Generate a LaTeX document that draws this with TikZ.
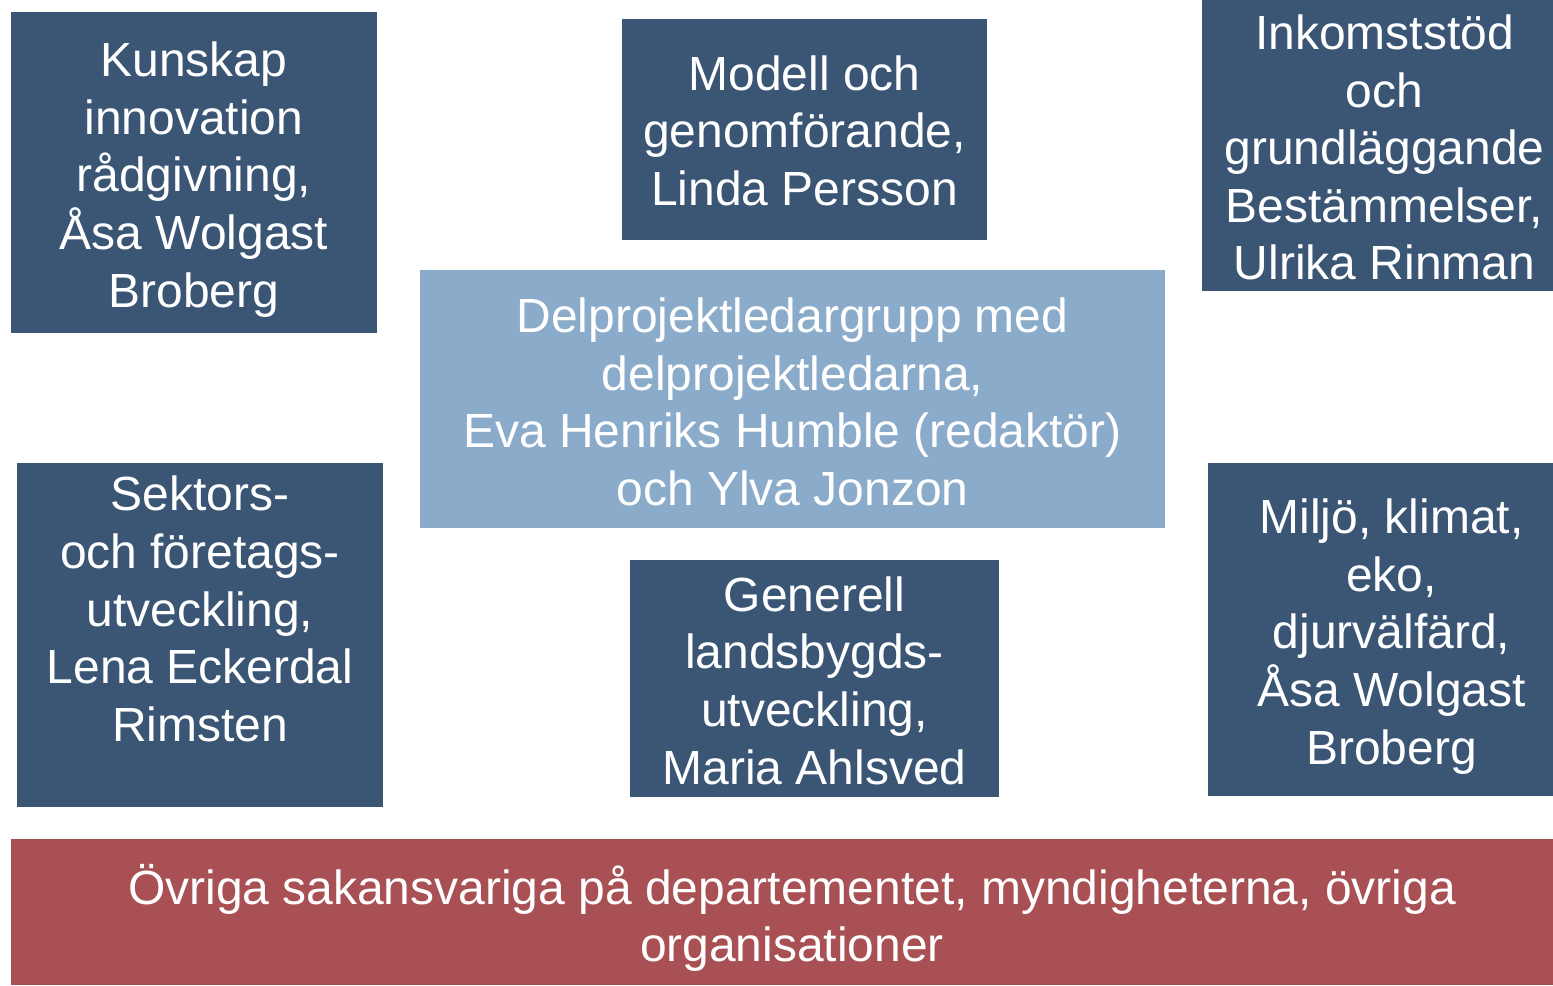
\documentclass[tikz,border=0pt]{standalone}
\usepackage{fontspec}
\setmainfont{Liberation Sans}
\definecolor{boxblue}{HTML}{3B5675}
\definecolor{lightblue}{HTML}{8AABCA}
\definecolor{boxred}{HTML}{A85053}
\begin{document}
\begin{tikzpicture}[x=0.02cm, y=-0.02cm,
        box/.style={fill=boxblue, inner sep=0pt},
        txt/.style={text=white, align=center, inner sep=0pt,
            font=\fontsize{27.3}{32.8}\selectfont}]
        \useasboundingbox (0,0) rectangle (1553,985);
        \node[box, minimum width=7.32cm, minimum height=6.42cm] (kunskap) at (194,172.5) {};
        \node[txt] at ([shift={(0,7)}]kunskap.center)
        {Kunskap\\innovation\\rådgivning,\\Åsa Wolgast\\Broberg};
        \node[box, minimum width=7.3cm, minimum height=4.42cm] (modell) at (804.5,129.5) {};
        \node[txt] at ([shift={(0,1)}]modell.center)
        {Modell och\\genomförande,\\Linda Persson};
        \node[box, minimum width=7.02cm, minimum height=5.82cm] (inkomst) at (1377.5,145.5) {};
        \node[txt] at ([shift={(7,2)}]inkomst.center)
        {Inkomststöd\\och\\grundläggande\\Bestämmelser,\\Ulrika Rinman};
        \node[box, fill=lightblue, minimum width=14.9cm, minimum height=5.16cm] (delprojekt) at (792.5,399) {};
        \node[txt] at ([shift={(0,3)}]delprojekt.center)
        {Delprojektledargrupp med\\delprojektledarna,\\Eva Henriks Humble (redaktör)\\och Ylva Jonzon};
        \node[box, minimum width=7.32cm, minimum height=6.88cm] (sektor) at (200,635) {};
        \node[txt] at ([shift={(0,-26)}]sektor.center)
        {Sektors-\\och företags-\\utveckling,\\Lena Eckerdal\\Rimsten};
        \node[box, minimum width=7.38cm, minimum height=4.74cm] (generell) at (814.5,678.5) {};
        \node[txt] at ([shift={(0,2)}]generell.center)
        {Generell\\landsbygds-\\utveckling,\\Maria Ahlsved};
        \node[box, minimum width=6.9cm, minimum height=6.66cm] (miljo) at (1380.5,629.5) {};
        \node[txt] at ([shift={(11,7)}]miljo.center)
        {Miljö, klimat,\\eko,\\djurvälfärd,\\Åsa Wolgast\\Broberg};
        \node[box, fill=boxred, minimum width=30.84cm, minimum height=2.92cm] (ovriga) at (782,912) {};
        \node[txt] at ([shift={(10,6)}]ovriga.center)
        {Övriga sakansvariga på departementet, myndigheterna, övriga\\organisationer};
    \end{tikzpicture}
\end{document}
